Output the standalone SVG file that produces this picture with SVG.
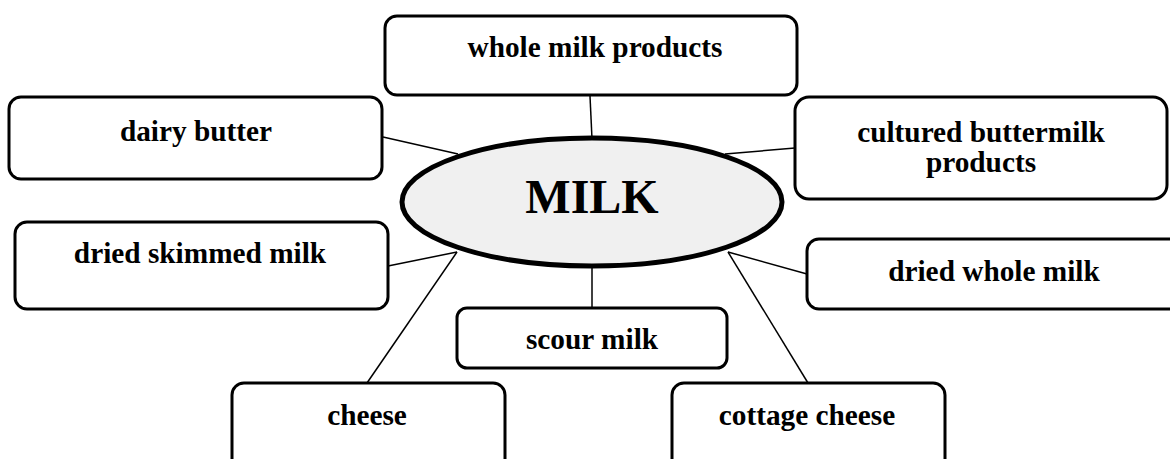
<svg xmlns="http://www.w3.org/2000/svg" width="1170" height="459" viewBox="0 0 1170 459">
<style>
.box{fill:#ffffff;stroke:#000;stroke-width:3}
.lbl{font-family:"Liberation Serif","Times New Roman",serif;font-weight:bold;font-size:29.3px;text-anchor:middle;fill:#000}
.conn{stroke:#000;stroke-width:1.5;fill:none}
</style>
<rect width="1170" height="459" fill="#ffffff"/>
<g id="connectors">
<line class="conn" x1="590" y1="96" x2="592" y2="139"/>
<line class="conn" x1="383" y1="137" x2="458" y2="154"/>
<line class="conn" x1="725" y1="154" x2="795" y2="148"/>
<line class="conn" x1="388" y1="266" x2="457" y2="252"/>
<line class="conn" x1="457" y1="252" x2="367" y2="383"/>
<line class="conn" x1="592" y1="266" x2="592" y2="308"/>
<line class="conn" x1="728" y1="252" x2="807" y2="274"/>
<line class="conn" x1="728" y1="252" x2="808" y2="383"/>
</g>
<g id="milk">
<ellipse cx="592" cy="202" rx="190" ry="64" fill="#f0f0f0" stroke="#000" stroke-width="5"/>
<text x="592" y="213" font-family="Liberation Serif, Times New Roman, serif" font-weight="bold" font-size="48" text-anchor="middle">MILK</text>
</g>
<g id="whole-milk-products">
<rect class="box" x="385" y="16" width="412" height="79" rx="12"/>
<text class="lbl" x="595" y="57">whole milk products</text>
</g>
<g id="dairy-butter">
<rect class="box" x="9" y="97" width="373" height="82" rx="12"/>
<text class="lbl" x="196" y="141">dairy butter</text>
</g>
<g id="cultured-buttermilk-products">
<rect class="box" x="795" y="97" width="372" height="102" rx="14"/>
<text class="lbl" x="981" y="142">cultured buttermilk</text>
<text class="lbl" x="981" y="172">products</text>
</g>
<g id="dried-skimmed-milk">
<rect class="box" x="15" y="222" width="373" height="87" rx="12"/>
<text class="lbl" x="200" y="263">dried skimmed milk</text>
</g>
<g id="dried-whole-milk">
<rect class="box" x="807" y="239" width="375" height="70" rx="12"/>
<text class="lbl" x="994" y="281">dried whole milk</text>
</g>
<g id="scour-milk">
<rect class="box" x="457" y="308" width="270" height="60" rx="10"/>
<text class="lbl" x="592" y="349">scour milk</text>
</g>
<g id="cheese">
<rect class="box" x="232" y="383" width="273" height="90" rx="12"/>
<text class="lbl" x="367" y="425">cheese</text>
</g>
<g id="cottage-cheese">
<rect class="box" x="672" y="383" width="273" height="90" rx="12"/>
<text class="lbl" x="807" y="425">cottage cheese</text>
</g>
</svg>
